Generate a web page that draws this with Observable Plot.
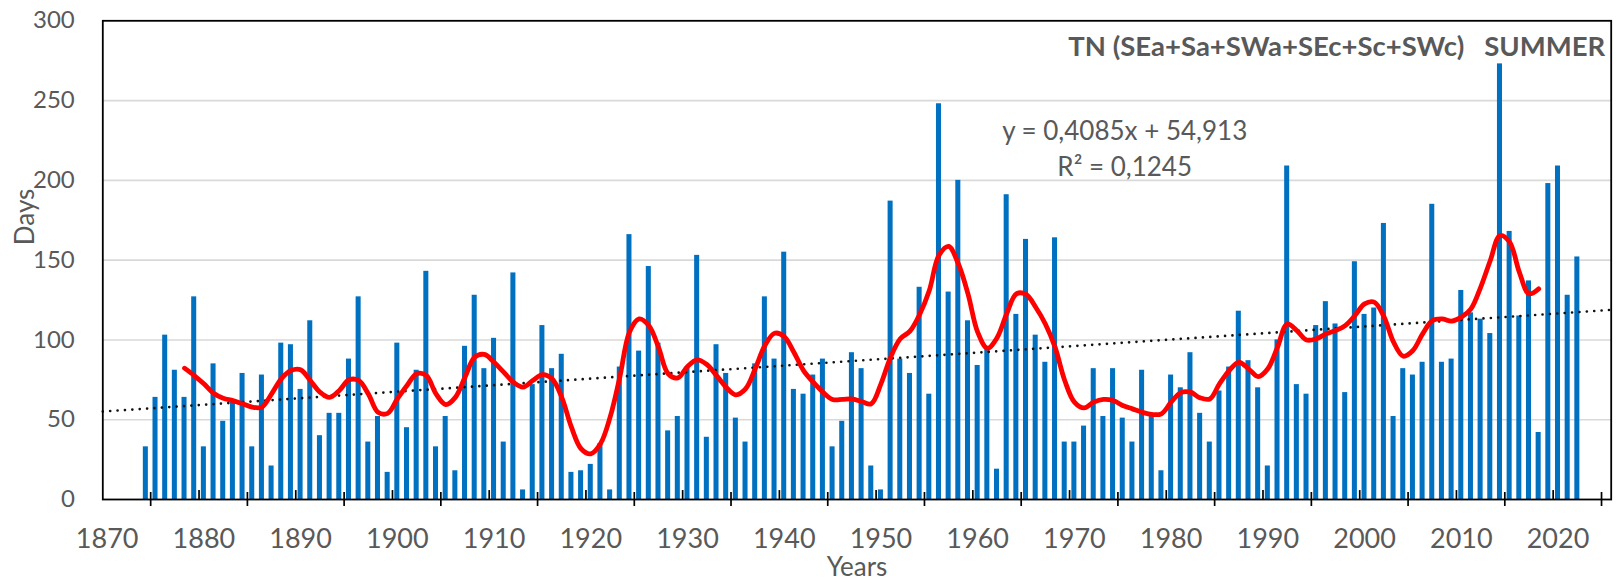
<!DOCTYPE html>
<html>
<head>
<meta charset="utf-8">
<script src="https://cdn.jsdelivr.net/npm/d3@7"></script>
<script src="https://cdn.jsdelivr.net/npm/@observablehq/plot@0.6"></script>
<style>
  html, body { margin: 0; padding: 0; background: #fff; }
  #chart { width: 1617px; height: 583px; }
</style>
</head>
<body>
<div id="chart"></div>
<script>
// ---- Data ----
const firstYear = 1874;
const days = [
  33, 64, 103, 81, 64, 127, 33, 85, 49, 62,
  79, 33, 78, 21, 98, 97, 69, 112, 40, 54,
  54, 88, 127, 36, 52, 17, 98, 45, 81, 143,
  33, 52, 18, 96, 128, 82, 101, 36, 142, 6,
  72, 109, 82, 91, 17, 18, 22, 35, 6, 83,
  166, 93, 146, 98, 43, 52, 83, 153, 39, 97,
  79, 51, 36, 85, 127, 88, 155, 69, 66, 78,
  88, 33, 49, 92, 82, 21, 6, 187, 88, 79,
  133, 66, 248, 130, 200, 112, 84, 95, 19, 191,
  116, 163, 103, 86, 164, 36, 36, 46, 82, 52,
  82, 51, 36, 81, 52, 18, 78, 70, 92, 54,
  36, 68, 83, 118, 87, 70, 21, 100, 209, 72,
  66, 109, 124, 110, 67, 149, 116, 120, 173, 52,
  82, 78, 86, 185, 86, 88, 131, 117, 113, 104,
  273, 168, 115, 137, 42, 198, 209, 128, 152
];
const smoothFirstYear = 1878;
const smoothed = [
  82.3, 77.7, 72.5, 66.6, 63.5, 62, 60, 57.9, 57.9, 66.2,
  75.6, 80.8, 81.3, 74.6, 67.3, 64, 68.3, 75, 74.6, 66.2,
  54.7, 54, 63, 71.4, 78.8, 77.7, 66.2, 59.5, 64, 76.7,
  89.2, 90.9, 86, 79.8, 73.5, 70.4, 74.6, 78.3, 75.6, 64,
  45.3, 31.8, 28.6, 34.9, 51.6, 76.7, 104.9, 113.2, 109, 95.5,
  78.8, 76.2, 83.4, 87.5, 84.6, 77.7, 70.4, 65.6, 69.3, 81.9,
  96.5, 104.2, 102.1, 92.3, 80.8, 73.5, 67.3, 62.7, 62.7, 63,
  61.4, 60, 72.5, 89.2, 100.7, 105.5, 116, 131, 153, 158.6,
  147.7, 128.9, 104.9, 94.8, 101.3, 116.4, 128.9, 128.5, 120.5, 110,
  95.5, 74.6, 61, 57.4, 61, 62.7, 62, 58.9, 56.8, 54.7,
  53.3, 53.7, 61, 67, 67.3, 63.7, 63, 72.5, 80.8, 86,
  81.9, 77, 81.9, 95.5, 110, 105.9, 100, 100.7, 103.8, 105.9,
  109, 115.3, 122.6, 123.7, 114.7, 98.6, 89.8, 93.4, 103.8, 112.1,
  113.2, 111.8, 114.3, 119.5, 133, 149.8, 165.4, 161.3, 142.5, 128.9,
  132
];
// Linear trend as printed on the chart (x counted from 1869)
const trendSlope = 0.4085;
const trendIntercept = 54.913;
const trendOrigin = 1869;
const equationLines = ["y = 0,4085x + 54,913", "R\u00B2 = 0,1245"];
const titleText = "TN (SEa+Sa+SWa+SEc+Sc+SWc)\u00A0\u00A0\u00A0SUMMER";
const xTickLabels = [1870, 1880, 1890, 1900, 1910, 1920, 1930, 1940, 1950, 1960, 1970, 1980, 1990, 2000, 2010, 2020];
const yTickLabels = [0, 50, 100, 150, 200, 250, 300];
const yGrid = [50, 100, 150, 200, 250];
const yAxisTitle = "Days";
const xAxisTitle = "Years";

// ---- Build tables ----
const bars = days.map((v, i) => ({year: firstYear + i, days: v}));
const smooth = smoothed.map((v, i) => ({year: smoothFirstYear + i, days: v}));
const xDomain = [1869.55, 2025.5];
const trend = xDomain.map(x => ({year: x, days: trendSlope * (x - trendOrigin) + trendIntercept}));
const majorTicks = d3.range(firstYear + 0.5, xDomain[1], 10);   // category-group ticks
const minorTicks = d3.range(1879.5, 2020, 10);                  // label-axis ticks
const half = 0.26;
const gray = "#595959";

const chart = Plot.plot({
  width: 1617,
  height: 583,
  marginLeft: 102.3,
  marginRight: 6.3,
  marginTop: 20.3,
  marginBottom: 84,
  style: {fontFamily: "Lato, 'Open Sans', sans-serif", color: gray, background: "#fff"},
  x: {type: "linear", domain: xDomain},
  y: {domain: [0, 300]},
  marks: [
    Plot.gridY(yGrid, {stroke: "#d9d9d9", strokeOpacity: 1, strokeWidth: 1.6}),
    Plot.rectY(bars, {x1: d => d.year - half, x2: d => d.year + half, y1: 0, y2: "days", fill: "#0070c0"}),
    Plot.line(trend, {x: "year", y: "days", stroke: "#111", strokeWidth: 2.7, strokeDasharray: "0 7.4", strokeLinecap: "round"}),
    Plot.line(smooth, {x: "year", y: "days", stroke: "#ff0000", strokeWidth: 4.8, curve: "catmull-rom", strokeLinejoin: "round", strokeLinecap: "round"}),
    Plot.frame({stroke: "#000", strokeWidth: 1.8}),
    Plot.ruleX(majorTicks, {x: d => d, y1: -4.4, y2: 4.4, stroke: "#000", strokeWidth: 1.7}),
    Plot.ruleX(minorTicks, {x: d => d, y1: 0, y2: 5.6, stroke: "#000", strokeWidth: 1.7}),
    Plot.axisY(yTickLabels, {tickSize: 0, tickPadding: 28, fontSize: 24, fill: gray, label: null}),
    Plot.axisX(xTickLabels, {tickSize: 0, tickPadding: 29, fontSize: 27, fill: gray, tickFormat: d => String(d), label: null}),
    Plot.text([yAxisTitle], {frameAnchor: "left", dx: -77, dy: -15, rotate: -90, fontSize: 26, fill: gray}),
    Plot.text([xAxisTitle], {frameAnchor: "bottom", dy: 76, fontSize: 26, fill: gray}),
    Plot.text([titleText], {frameAnchor: "top-right", dx: -6, dy: 26, textAnchor: "end", lineAnchor: "middle", fontSize: 27.5, fontWeight: "bold", fill: gray}),
    Plot.text([equationLines.join("\n")], {x: () => 1975.2, y: () => 221.5, textAnchor: "middle", lineAnchor: "middle", lineHeight: 1.4, fontSize: 26, fill: gray})
  ]
});
document.getElementById("chart").appendChild(chart);
</script>
</body>
</html>
